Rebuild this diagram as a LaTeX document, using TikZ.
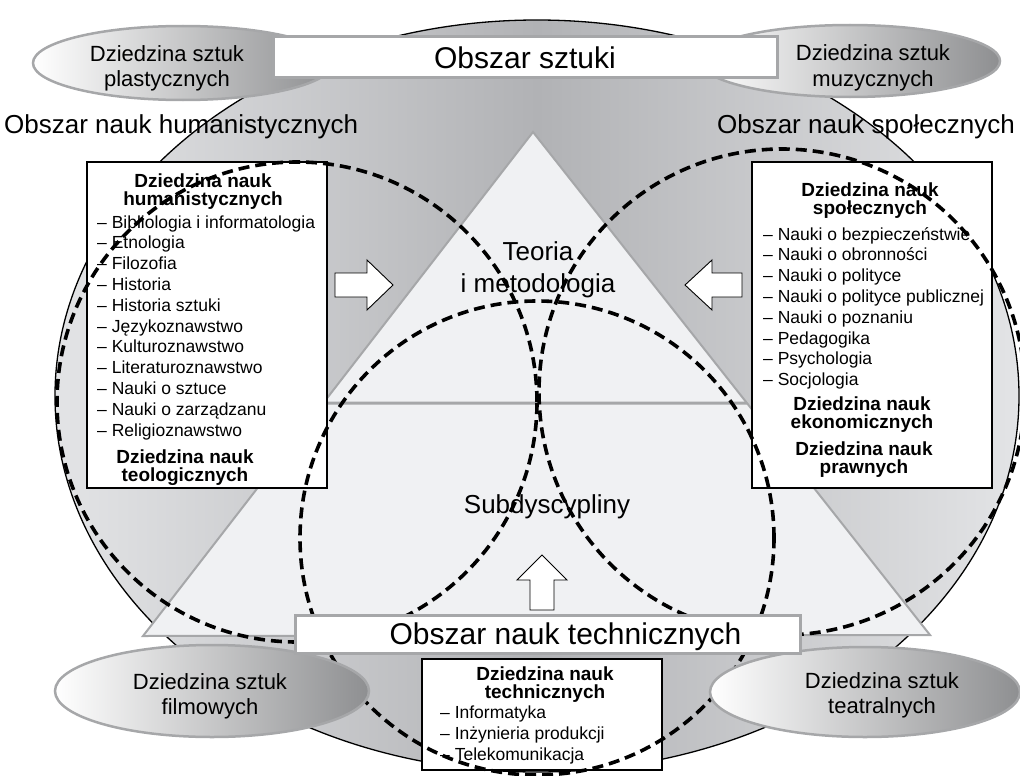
\documentclass[tikz,border=0pt]{standalone}
\usepackage{fontspec}
\setmainfont{Liberation Sans}
\usetikzlibrary{calc}
\definecolor{shelledge}{HTML}{E3E4E6}
\definecolor{shellmid}{HTML}{B1B2B5}
\definecolor{trifill}{HTML}{F0F1F3}
\definecolor{rimgray}{HTML}{A6A7A9}
\definecolor{ovaldark}{HTML}{8E8F91}
\tikzset{
	areatxt/.style={font=\fontsize{26}{32}\selectfont, inner sep=0pt, align=center},
	headtxt/.style={font=\bfseries\fontsize{19}{17.5}\selectfont, inner sep=0pt, align=center, anchor=base},
	itemtxt/.style={font=\fontsize{17.5}{21}\selectfont, inner sep=0pt, anchor=base west},
	ovaltxt/.style={font=\fontsize{22}{25}\selectfont, inner sep=0pt, align=center, anchor=base},
	oval/.style={draw=rimgray, line width=2.5pt, left color=white, right color=ovaldark},
	listbox/.style={draw=black, line width=1.3pt, fill=white, inner sep=0pt},
	titlebox/.style={draw=rimgray, line width=3pt, fill=white, inner sep=0pt, font=\fontsize{30}{36}\selectfont},
	circ/.style={line width=3.6pt, dash pattern=on 11pt off 6pt},
	blockarrow/.style={draw=black, line width=0.9pt, fill=white, line join=miter},
}
\begin{document}
\begin{tikzpicture}[x=1pt,y=-1pt]
	\useasboundingbox (0,0) rectangle (1020,776);
	\draw[line width=1.3pt, left color=shelledge, right color=shelledge, middle color=shellmid] (537,396) ellipse [x radius=482pt, y radius=376pt];
	\coordinate (apex) at (533,132);
	\coordinate (baseL) at (143,636);
	\coordinate (baseR) at (930,635);
	\draw[rimgray, line width=2pt, fill=trifill] (apex) -- (baseL) -- (baseR) -- cycle;
	\draw[rimgray, line width=3pt] ($(apex)!0.5377!(baseL)$) -- ($(apex)!0.5388!(baseR)$);
	\node[areatxt, anchor=base west] (hum) at (4,133) {Obszar nauk humanistycznych};
	\node[areatxt, anchor=base east] (spol) at (1015,133) {Obszar nauk społecznych};
	\node[areatxt, anchor=base] (teoria) at (538,292) {Teoria\\i metodologia};
	\node[areatxt, anchor=base] (subd) at (547,513) {Subdyscypliny};
	\draw[oval] (183,63) ellipse [x radius=150pt, y radius=37pt];
	\draw[oval] (850,61) ellipse [x radius=150pt, y radius=36pt];
	\node[ovaltxt] (plast) at (167,87) {Dziedzina sztuk\\plastycznych};
	\node[ovaltxt] (muz) at (873,86) {Dziedzina sztuk\\muzycznych};
	\node[titlebox, minimum width=504pt, minimum height=41pt] (sztuka) at (525,57.5) {Obszar sztuki};
	\node[listbox, minimum width=240pt, minimum height=326pt] (humbox) at (207,325) {};
	\node[listbox, minimum width=240pt, minimum height=326pt] (spolbox) at (872,325) {};
	\node[listbox, minimum width=240pt, minimum height=111pt] (techbox) at (542,714.5) {};
	\node[headtxt] (humhead) at (203,205) {Dziedzina nauk\\humanistycznych};
	\foreach \t [count=\i] in {Bibliologia i informatologia, Etnologia, Filozofia, Historia, Historia sztuki, Językoznawstwo, Kulturoznawstwo, Literaturoznawstwo, Nauki o sztuce, Nauki o zarządzanu, Religioznawstwo}
		\node[itemtxt] (humitem\i) at (97,207.2+20.8*\i) {– \t};
	\node[headtxt] (teolhead) at (185,481) {Dziedzina nauk\\teologicznych};
	\node[headtxt] (spolhead) at (870,214) {Dziedzina nauk\\społecznych};
	\foreach \t [count=\i] in {Nauki o bezpieczeństwie, Nauki o obronności, Nauki o polityce, Nauki o polityce publicznej, Nauki o poznaniu, Pedagogika, Psychologia, Socjologia}
		\node[itemtxt] (spolitem\i) at (763,219.2+20.8*\i) {– \t};
	\node[headtxt] (ekohead) at (862,428) {Dziedzina nauk\\ekonomicznych};
	\node[headtxt] (prawhead) at (864,473) {Dziedzina nauk\\prawnych};
	\node[headtxt] (techhead) at (545,698) {Dziedzina nauk\\technicznych};
	\foreach \t [count=\i] in {Informatyka, Inżynieria produkcji, Telekomunikacja}
		\node[itemtxt] (techitem\i) at (440,697+21*\i) {– \t};
	\draw[blockarrow] (335,273) -- (367,273) -- (367,260) -- (393,285) -- (367,310) -- (367,297) -- (335,297) -- cycle;
	\draw[blockarrow] (742,273) -- (712,273) -- (712,260) -- (685,285) -- (712,310) -- (712,297) -- (742,297) -- cycle;
	\draw[blockarrow] (530,610) -- (530,580) -- (517,580) -- (542,555) -- (567,580) -- (554,580) -- (554,610) -- cycle;
	\draw[circ] (297,402) circle [radius=240pt];
	\draw[circ] (782,392) circle [radius=243pt];
	\draw[circ] (537,538) circle [radius=237pt];
	\draw[oval] (212,691) ellipse [x radius=157pt, y radius=46pt];
	\draw[oval] (865,692) ellipse [x radius=155pt, y radius=45pt];
	\node[ovaltxt] (film) at (210,714) {Dziedzina sztuk\\filmowych};
	\node[ovaltxt] (teatr) at (882,713) {Dziedzina sztuk\\teatralnych};
	\node[titlebox, minimum width=505pt, minimum height=38pt, text depth=0pt] (techbar) at (547.5,634) {\hspace*{36pt}Obszar nauk technicznych};
\end{tikzpicture}
\end{document}
